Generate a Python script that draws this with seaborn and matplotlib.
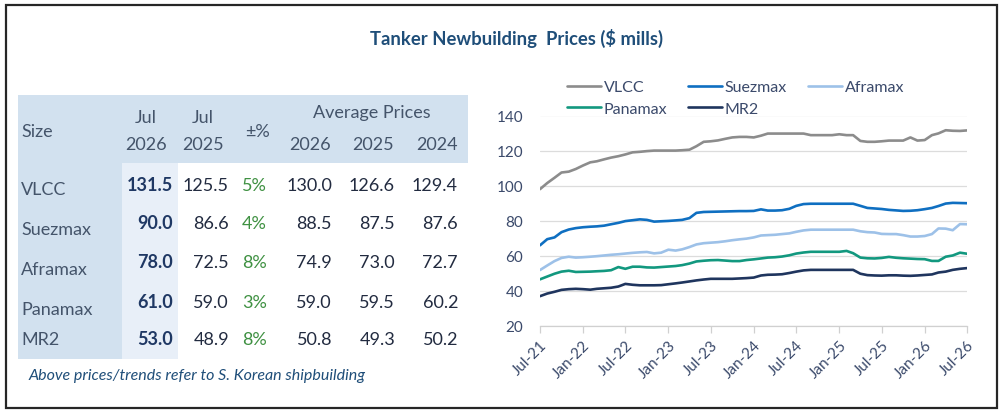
import numpy as np
import pandas as pd
import matplotlib
matplotlib.use("Agg")
import matplotlib.pyplot as plt
from matplotlib.patches import Rectangle
from matplotlib.lines import Line2D
import seaborn as sns

# ---------------- data ----------------
title = "Tanker Newbuilding  Prices ($ mills)"
footnote = "Above prices/trends refer to S. Korean shipbuilding"

sizes = ["VLCC", "Suezmax", "Aframax", "Panamax", "MR2"]
jul_2026 = [131.5, 90.0, 78.0, 61.0, 53.0]
jul_2025 = [125.5, 86.6, 72.5, 59.0, 48.9]
pct_change = ["5%", "4%", "8%", "3%", "8%"]
avg_2026 = [130.0, 88.5, 74.9, 59.0, 50.8]
avg_2025 = [126.6, 87.5, 73.0, 59.5, 49.3]
avg_2024 = [129.4, 87.6, 72.7, 60.2, 50.2]

start_month = "2021-07-01"
vlcc = [98.0, 101.5, 104.5, 107.5, 108.0, 109.5, 111.5, 113.3, 113.9, 115.0,
        116.0, 116.8, 117.8, 119.0, 119.3, 119.7, 120.0, 120.0, 120.0, 120.0,
        120.2, 120.5, 122.5, 125.0, 125.3, 125.8, 126.7, 127.5, 127.8, 127.8,
        127.5, 128.5, 129.7, 129.7, 129.7, 129.7, 129.7, 129.7, 128.8, 128.8,
        128.8, 128.8, 129.3, 128.8, 128.8, 125.5, 125.0, 125.0, 125.3, 125.7,
        125.7, 125.7, 127.5, 125.7, 126.0, 128.8, 129.8, 131.6, 131.3, 131.2,
        131.5]
suezmax = [66.0, 69.5, 70.5, 73.5, 75.0, 75.8, 76.3, 76.6, 76.8, 77.2,
           78.0, 78.8, 79.8, 80.3, 80.8, 80.5, 79.5, 79.7, 79.9, 80.2,
           80.5, 81.5, 84.5, 85.0, 85.1, 85.2, 85.3, 85.4, 85.5, 85.5,
           85.6, 86.5, 85.8, 85.8, 86.0, 86.8, 88.5, 89.5, 89.7, 89.7,
           89.7, 89.7, 89.7, 89.7, 89.7, 88.5, 87.3, 87.0, 86.7, 86.2,
           85.9, 85.6, 85.7, 86.0, 86.6, 87.3, 88.4, 89.8, 90.2, 90.1,
           90.0]
aframax = [51.9, 54.5, 57.0, 58.8, 59.5, 59.0, 59.2, 59.5, 59.8, 60.2,
           60.6, 60.9, 61.3, 61.7, 62.0, 62.2, 61.4, 61.8, 63.5, 63.0,
           63.7, 65.0, 66.5, 67.2, 67.5, 67.8, 68.3, 68.9, 69.4, 69.8,
           70.5, 71.6, 71.8, 72.0, 72.4, 72.8, 73.7, 74.5, 74.9, 74.9,
           74.9, 74.9, 74.9, 74.9, 74.9, 74.0, 73.5, 73.3, 72.5, 72.4,
           72.4, 71.8, 71.0, 71.0, 71.3, 72.4, 75.6, 75.5, 74.6, 78.1,
           78.0]
panamax = [46.6, 48.2, 49.8, 51.0, 51.5, 50.8, 50.9, 51.0, 51.2, 51.4,
           51.8, 53.6, 52.6, 53.8, 53.8, 53.4, 53.3, 53.6, 53.9, 54.2,
           54.7, 55.6, 56.8, 57.2, 57.5, 57.6, 57.3, 57.0, 57.0, 57.6,
           58.0, 58.5, 59.0, 59.2, 59.6, 60.3, 61.3, 61.9, 62.3, 62.3,
           62.3, 62.3, 62.3, 62.8, 61.5, 59.0, 58.6, 58.5, 58.8, 59.4,
           58.9, 58.6, 58.4, 58.2, 58.1, 57.1, 57.1, 59.5, 60.2, 61.8,
           61.2]
mr2 = [37.0, 38.5, 39.5, 40.6, 41.0, 41.2, 41.0, 40.7, 41.2, 41.5,
       41.8, 42.5, 44.0, 43.5, 43.2, 43.2, 43.2, 43.3, 43.8, 44.3,
       44.8, 45.4, 46.0, 46.5, 46.9, 46.9, 46.9, 46.9, 47.1, 47.3,
       47.6, 48.8, 49.2, 49.3, 49.5, 50.2, 51.0, 51.7, 52.0, 52.0,
       52.0, 52.0, 52.0, 52.0, 52.0, 49.8, 49.0, 48.8, 48.7, 48.9,
       48.9, 48.7, 48.6, 48.8, 49.1, 49.4, 50.5, 51.0, 52.0, 52.6,
       53.0]

tick_dates = ["2021-07-01", "2022-01-01", "2022-07-01", "2023-01-01", "2023-07-01",
              "2024-01-01", "2024-07-01", "2025-01-01", "2025-07-01", "2026-01-01",
              "2026-07-01"]
tick_labels = ["Jul-21", "Jan-22", "Jul-22", "Jan-23", "Jul-23", "Jan-24",
               "Jul-24", "Jan-25", "Jul-25", "Jan-26", "Jul-26"]
y_ticks = [20, 40, 60, 80, 100, 120, 140]

colors = {"VLCC": "#8C8C8C", "Suezmax": "#0F6FC1", "Aframax": "#9DC1E8",
          "Panamax": "#12987F", "MR2": "#1F355E"}

# ---------------- style ----------------
sns.set_theme(style="white")
plt.rcParams["font.family"] = ["Lato", "DejaVu Sans"]

W, H = 999, 414
fig = plt.figure(figsize=(W / 100, H / 100), dpi=100)
fig.patch.set_facecolor("white")


def fx(p):
    return p / W


def fy(p):
    return 1 - p / H


def rect(x0, y0, x1, y1, **kw):
    fig.patches.append(Rectangle((fx(x0), fy(y1)), fx(x1) - fx(x0), fy(y0) - fy(y1),
                                 transform=fig.transFigure, **kw))


# border
rect(6, 6, 997, 409, fill=False, ec="#262626", lw=1.6)

# title
fig.text(fx(517), fy(38), title, ha="center", va="center", fontsize=13.3,
         fontweight="bold", color="#1F4E79")

# ---------------- table ----------------
hdr_bg = "#D2E1EF"
light_bg = "#E8EFF8"
rect(18, 96, 468, 164, color=hdr_bg, lw=0)
rect(18, 164, 122, 360, color=hdr_bg, lw=0)
rect(122, 164, 178, 360, color=light_bg, lw=0)

hdr_col = "#44546A"
val_col = "#222B40"
bold_col = "#1F3864"
pct_col = "#3F9142"
fs = 13.0

fig.text(fx(21), fy(132), "Size", ha="left", va="center", fontsize=fs, color=hdr_col)
fig.text(fx(146), fy(118), "Jul", ha="center", va="center", fontsize=fs, color=hdr_col)
fig.text(fx(146), fy(145), "2026", ha="center", va="center", fontsize=fs, color=hdr_col)
fig.text(fx(203), fy(118), "Jul", ha="center", va="center", fontsize=fs, color=hdr_col)
fig.text(fx(203), fy(145), "2025", ha="center", va="center", fontsize=fs, color=hdr_col)
fig.text(fx(257), fy(132), "±%", ha="center", va="center", fontsize=fs, color=hdr_col)
fig.text(fx(372), fy(113), "Average Prices", ha="center", va="center", fontsize=fs,
         color=hdr_col)
for xc, lab in zip([310, 373, 437], ["2026", "2025", "2024"]):
    fig.text(fx(xc), fy(145), lab, ha="center", va="center", fontsize=fs, color=hdr_col)

label_y = [190, 230, 270, 310, 340]
value_y = [186, 224, 263, 303, 340]
for i, name in enumerate(sizes):
    fig.text(fx(21), fy(label_y[i]), name, ha="left", va="center", fontsize=fs,
             color=hdr_col)
    yv = fy(value_y[i])
    fig.text(fx(173), yv, f"{jul_2026[i]:.1f}", ha="right", va="center", fontsize=fs,
             fontweight="bold", color=bold_col)
    fig.text(fx(229), yv, f"{jul_2025[i]:.1f}", ha="right", va="center", fontsize=fs,
             color=val_col)
    fig.text(fx(267), yv, pct_change[i], ha="right", va="center", fontsize=fs,
             color=pct_col)
    fig.text(fx(332), yv, f"{avg_2026[i]:.1f}", ha="right", va="center", fontsize=fs,
             color=val_col)
    fig.text(fx(395), yv, f"{avg_2025[i]:.1f}", ha="right", va="center", fontsize=fs,
             color=val_col)
    fig.text(fx(458), yv, f"{avg_2024[i]:.1f}", ha="right", va="center", fontsize=fs,
             color=val_col)

fig.text(fx(29), fy(376), footnote, ha="left", va="center", fontsize=11.5,
         style="italic", color="#1F4E79")

# ---------------- line chart ----------------
dates = pd.date_range(start_month, periods=len(vlcc), freq="MS")
series = {"VLCC": vlcc, "Suezmax": suezmax, "Aframax": aframax,
          "Panamax": panamax, "MR2": mr2}
df = pd.concat([pd.DataFrame({"date": dates, "price": v, "size": k})
                for k, v in series.items()], ignore_index=True)

ax = fig.add_axes([fx(540), fy(327), fx(967) - fx(540), fy(116.5) - fy(327)])
sns.lineplot(data=df, x="date", y="price", hue="size", hue_order=sizes,
             palette=colors, linewidth=1.9, legend=False, ax=ax)

ax.set_ylim(20, 140)
ax.set_xlim(pd.Timestamp(tick_dates[0]), pd.Timestamp(tick_dates[-1]))
ax.set_yticks(y_ticks)
ax.set_xticks([pd.Timestamp(d) for d in tick_dates])
ax.set_xticklabels(tick_labels, rotation=45, ha="right", rotation_mode="anchor")
ax.set_xlabel("")
ax.set_ylabel("")
ax.grid(axis="y", color="#DCDCDC", lw=0.9)
ax.grid(axis="x", visible=False)
for s in ["top", "right", "left"]:
    ax.spines[s].set_visible(False)
ax.spines["bottom"].set_color("#D0D0D0")
ax.spines["bottom"].set_linewidth(0.9)
ax.tick_params(axis="x", which="major", bottom=True, length=5, width=0.9,
               color="#D0D0D0", labelsize=11, labelcolor="#3B4A6B", pad=3)
ax.tick_params(axis="y", left=False, length=0, labelsize=11, labelcolor="#3B4A6B",
               pad=12)
ax.set_facecolor("none")

# legend (row-major ordering: VLCC Suezmax Aframax / Panamax MR2)
order = ["VLCC", "Panamax", "Suezmax", "MR2", "Aframax"]
handles = [Line2D([0], [0], color=colors[k], lw=1.9) for k in order]
leg = fig.legend(handles, order, loc="upper left", ncol=3, frameon=False,
                 bbox_to_anchor=(fx(567), fy(81)), bbox_transform=fig.transFigure,
                 fontsize=11.5, handlelength=2.15, handletextpad=0.15,
                 columnspacing=1.3, labelspacing=0.45, borderpad=0, borderaxespad=0)
for t in leg.get_texts():
    t.set_color("#3B4A6B")

fig.savefig("out.png", dpi=100, facecolor="white")
